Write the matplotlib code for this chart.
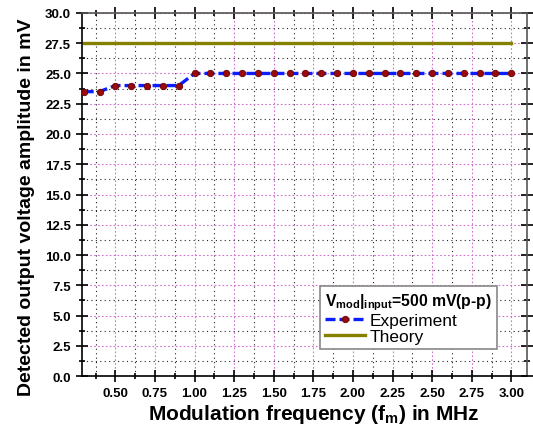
import numpy as np
import matplotlib
matplotlib.use('Agg')
import matplotlib.pyplot as plt
from matplotlib.ticker import MultipleLocator, FormatStrFormatter

plt.rcParams['font.family'] = ['Liberation Sans', 'DejaVu Sans']
plt.rcParams['mathtext.fontset'] = 'custom'
plt.rcParams['mathtext.rm'] = 'Liberation Sans'
plt.rcParams['mathtext.bf'] = 'Liberation Sans:bold'

# modulation frequency in MHz and detected amplitude in mV
freq = [0.3, 0.4, 0.5, 0.6, 0.7, 0.8, 0.9, 1.0, 1.1, 1.2, 1.3, 1.4, 1.5, 1.6,
        1.7, 1.8, 1.9, 2.0, 2.1, 2.2, 2.3, 2.4, 2.5, 2.6, 2.7, 2.8, 2.9, 3.0]
experiment = [23.5, 23.5, 24.0, 24.0, 24.0, 24.0, 24.0, 25.0, 25.0, 25.0, 25.0,
              25.0, 25.0, 25.0, 25.0, 25.0, 25.0, 25.0, 25.0, 25.0, 25.0, 25.0,
              25.0, 25.0, 25.0, 25.0, 25.0, 25.0]
theory_freq = [0.3, 3.0]
theory = [27.5, 27.5]

fig = plt.figure(figsize=(5.33, 4.35), dpi=100)
ax = fig.add_axes([0.154, 0.133, 0.835, 0.835])

ax.plot(theory_freq, theory, color='#858000', lw=2.4, label='Theory', zorder=3)
ax.plot(freq, experiment, color='#0a1fff', lw=2.4, ls=(0, (3.0, 1.2)),
        marker='o', ms=4.6, mfc='#9a0a0a', mec='#6a0000', mew=0.6,
        label='Experiment', zorder=4)

ax.set_xlim(0.29, 3.1)
ax.set_ylim(0, 30)
ax.xaxis.set_major_locator(MultipleLocator(0.25))
ax.xaxis.set_minor_locator(MultipleLocator(0.125))
ax.yaxis.set_major_locator(MultipleLocator(2.5))
ax.yaxis.set_minor_locator(MultipleLocator(1.25))
ax.xaxis.set_major_formatter(FormatStrFormatter('%.2f'))
ax.yaxis.set_major_formatter(FormatStrFormatter('%.1f'))

ax.grid(which='major', color='#d070d0', ls=(0, (1.5, 2)), lw=0.8)
ax.grid(which='minor', color='#222222', ls=(0, (1, 3)), lw=0.8)
ax.set_axisbelow(True)

ax.tick_params(which='both', direction='inout', width=1.2, top=True, right=True,
               labelsize=9.5)
ax.tick_params(which='major', length=9)
ax.tick_params(which='minor', length=5)
for lab in ax.get_xticklabels() + ax.get_yticklabels():
    lab.set_fontweight('bold')
for sp in ax.spines.values():
    sp.set_linewidth(1.2)
ax.spines['top'].set_color('#555555')
ax.spines['right'].set_color('#555555')

ax.set_xlabel(r'Modulation frequency (f$_\mathbf{m}$) in MHz', fontsize=15,
              fontweight='bold')
ax.set_ylabel('Detected output voltage amplitude in mV', fontsize=14,
              fontweight='bold')
ax.xaxis.set_label_coords(0.521, -0.07)
ax.yaxis.set_label_coords(-0.105, 0.468)

handles, labels = ax.get_legend_handles_labels()
leg = ax.legend(handles[::-1], labels[::-1], loc='lower right',
                bbox_to_anchor=(0.952, 0.05),
                title=r'$\mathbf{V_{mod}|_{input}}$=500 mV(p-p)',
                title_fontproperties={'weight': 'bold', 'size': 11.3},
                fontsize=12.5, frameon=True, fancybox=False, framealpha=1,
                edgecolor='#888888', handlelength=2.3, handletextpad=0.3,
                borderpad=0.3, labelspacing=0.05)
leg.get_frame().set_linewidth(1.2)
leg._legend_box.align = 'left'

fig.savefig('out.png', dpi=100)
